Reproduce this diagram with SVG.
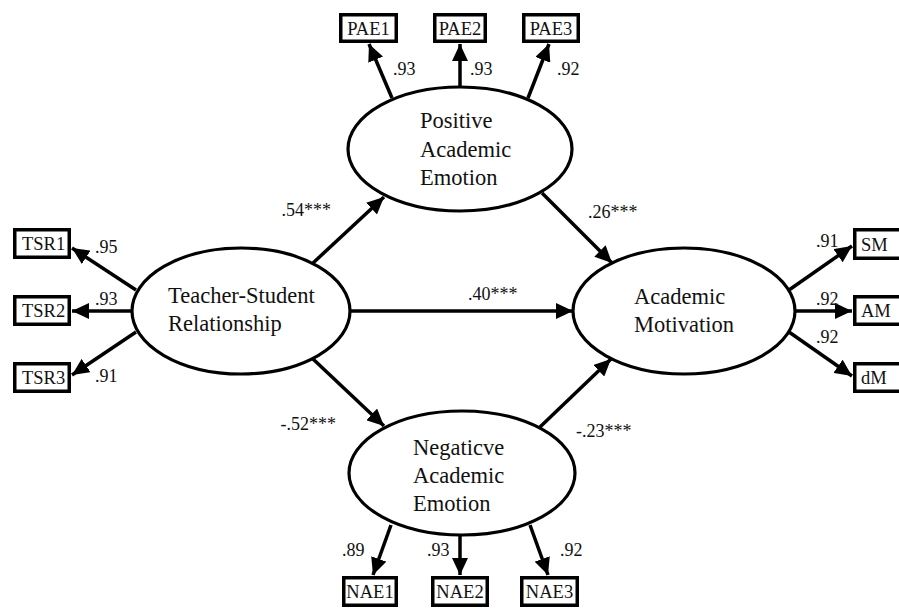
<svg xmlns="http://www.w3.org/2000/svg" width="899" height="608" viewBox="0 0 899 608">
<defs>
<marker id="ah" markerUnits="userSpaceOnUse" markerWidth="18" markerHeight="16" refX="17" refY="8" orient="auto">
<path d="M0,0 L17,8 L0,16 Z" fill="#000"/>
</marker>
<style>
.lat{fill:#fff;stroke:#000;stroke-width:3.2}
.box{fill:#fff;stroke:#000;stroke-width:3.5}
.nt{font-family:"Liberation Serif","Times New Roman",serif;font-size:22.5px;fill:#111}
.bt{font-family:"Liberation Serif","Times New Roman",serif;font-size:18.5px;fill:#111}
.lb{font-family:"Liberation Serif","Times New Roman",serif;font-size:18px;fill:#111}
.ar{stroke:#000;stroke-width:3.5;fill:none;marker-end:url(#ah)}
</style>
</defs>
<rect width="899" height="608" fill="#fff"/>
<g id="connectors">
<line class="ar" x1="136" y1="290" x2="72" y2="248"/>
<line class="ar" x1="132" y1="311" x2="72" y2="311"/>
<line class="ar" x1="136" y1="332" x2="72" y2="375"/>
<line class="ar" x1="392" y1="98" x2="369" y2="44"/>
<line class="ar" x1="460" y1="87" x2="460" y2="44"/>
<line class="ar" x1="528" y1="98" x2="549" y2="44"/>
<line class="ar" x1="391" y1="525" x2="373" y2="575"/>
<line class="ar" x1="460" y1="535" x2="460" y2="575"/>
<line class="ar" x1="530" y1="525" x2="548" y2="575"/>
<line class="ar" x1="789" y1="290" x2="852" y2="246"/>
<line class="ar" x1="795" y1="311" x2="852" y2="311"/>
<line class="ar" x1="789" y1="332" x2="852" y2="376"/>
<line class="ar" x1="313" y1="263" x2="384" y2="197"/>
<line class="ar" x1="313" y1="359" x2="384" y2="426"/>
<line class="ar" x1="350" y1="311" x2="573" y2="311"/>
<line class="ar" x1="542" y1="193" x2="612" y2="263"/>
<line class="ar" x1="540" y1="427" x2="611" y2="359"/>
</g>
<g id="TSR">
<ellipse class="lat" cx="241" cy="311" rx="109" ry="63"/>
<text class="nt" x="168" y="303">Teacher-Student</text>
<text class="nt" x="168" y="331">Relationship</text>
</g>
<g id="PAE">
<ellipse class="lat" cx="460" cy="149" rx="112" ry="62"/>
<text class="nt" x="420" y="128">Positive</text>
<text class="nt" x="420" y="157">Academic</text>
<text class="nt" x="420" y="185">Emotion</text>
</g>
<g id="NAE">
<ellipse class="lat" cx="462" cy="473" rx="113" ry="62"/>
<text class="nt" x="413" y="455">Negaticve</text>
<text class="nt" x="413" y="483">Academic</text>
<text class="nt" x="413" y="511">Emotion</text>
</g>
<g id="AMot">
<ellipse class="lat" cx="684" cy="311" rx="111" ry="63"/>
<text class="nt" x="634" y="304">Academic</text>
<text class="nt" x="634" y="332">Motivation</text>
</g>
<g id="TSR1"><rect class="box" x="14.75" y="229.75" width="54.5" height="27.5"/><text class="bt" x="22" y="250">TSR1</text></g>
<g id="TSR2"><rect class="box" x="14.75" y="296.75" width="54.5" height="27.5"/><text class="bt" x="22" y="317">TSR2</text></g>
<g id="TSR3"><rect class="box" x="14.75" y="363.75" width="54.5" height="27.5"/><text class="bt" x="22" y="384">TSR3</text></g>
<g id="PAE1"><rect class="box" x="340.75" y="14.75" width="55.5" height="26.5"/><text class="bt" x="368.5" y="34.5" text-anchor="middle">PAE1</text></g>
<g id="PAE2"><rect class="box" x="434.75" y="14.75" width="50.5" height="26.5"/><text class="bt" x="460" y="34.5" text-anchor="middle">PAE2</text></g>
<g id="PAE3"><rect class="box" x="523.75" y="14.75" width="54.5" height="26.5"/><text class="bt" x="551" y="34.5" text-anchor="middle">PAE3</text></g>
<g id="NAE1"><rect class="box" x="343.75" y="577.75" width="52.5" height="27.5"/><text class="bt" x="370" y="598" text-anchor="middle">NAE1</text></g>
<g id="NAE2"><rect class="box" x="432.75" y="577.75" width="54.5" height="27.5"/><text class="bt" x="460" y="598" text-anchor="middle">NAE2</text></g>
<g id="NAE3"><rect class="box" x="521.75" y="577.75" width="55.5" height="27.5"/><text class="bt" x="549.5" y="598" text-anchor="middle">NAE3</text></g>
<g id="SM"><rect class="box" x="854.75" y="229.75" width="60" height="28.5"/><text class="bt" x="861" y="251">SM</text></g>
<g id="AM"><rect class="box" x="854.75" y="296.75" width="60" height="27.5"/><text class="bt" x="861" y="317">AM</text></g>
<g id="dM"><rect class="box" x="854.75" y="363.75" width="60" height="27.5"/><text class="bt" x="861" y="384">dM</text></g>
<g id="labels">
<text class="lb" x="95" y="253">.95</text>
<text class="lb" x="95" y="305">.93</text>
<text class="lb" x="95" y="382">.91</text>
<text class="lb" x="393" y="75">.93</text>
<text class="lb" x="470" y="75">.93</text>
<text class="lb" x="557" y="75">.92</text>
<text class="lb" x="342" y="556">.89</text>
<text class="lb" x="427" y="556">.93</text>
<text class="lb" x="560" y="556">.92</text>
<text class="lb" x="816" y="247">.91</text>
<text class="lb" x="816" y="305">.92</text>
<text class="lb" x="816" y="343">.92</text>
<text class="lb" x="331" y="216" text-anchor="end">.54***</text>
<text class="lb" x="588" y="218">.26***</text>
<text class="lb" x="468" y="300">.40***</text>
<text class="lb" x="336" y="430" text-anchor="end">-.52***</text>
<text class="lb" x="576" y="437">-.23***</text>
</g>
</svg>
